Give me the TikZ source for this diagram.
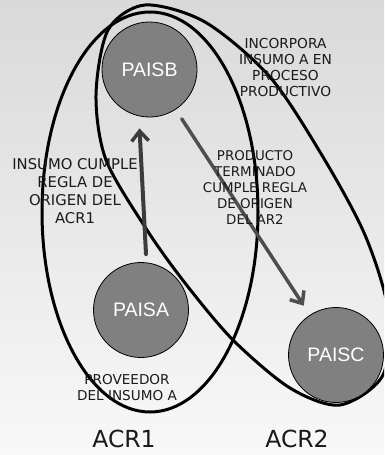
\documentclass[tikz,border=0pt]{standalone}
\usepackage{fontspec}
\setmainfont{DejaVu Sans}
\newfontfamily\circfont{Liberation Sans}
\usetikzlibrary{arrows.meta}
\definecolor{bgtop}{HTML}{D9D9D9}
\definecolor{bgbot}{HTML}{F8F8F8}
\definecolor{circfill}{HTML}{808080}
\definecolor{arrdark}{HTML}{3C3C3C}
\definecolor{arrmid}{HTML}{4E4E4E}
\definecolor{txt}{HTML}{1A1A1A}
\tikzset{
  loopline/.style={line width=3pt, black},
  country/.style={circle, draw=black, line width=0.8pt, fill=circfill, minimum size=95pt, inner sep=0pt,
    text=white, font=\circfont\fontsize{19.5}{22}\selectfont},
  lbl/.style={align=center, text=txt, inner sep=0pt},
  arrowline/.style={line width=4pt, line cap=round, -{Straight Barb[length=10pt,width=17pt,line width=3.5pt]}},
  acr/.style={text=txt, inner sep=0pt, font=\fontsize{23.5}{26}\selectfont}
}
\begin{document}
\begin{tikzpicture}[x=1pt,y=-1pt]
\useasboundingbox (0,0) rectangle (384,455);
\shade[top color=bgtop, bottom color=bgbot] (0,0) rectangle (384,455);
\begin{scope}
\clip (0,0) rectangle (384,455);
% ACR1 loop
\draw[loopline] (150,212) ellipse [x radius=108pt, y radius=200pt];
% ACR2 loop
\draw[loopline] plot[smooth cycle] coordinates {
 (145,5) (205,22) (270,77) (323,157) (365,235) (388,310) (383,375) (340,405)
 (290,388) (233,340) (185,283) (147,230) (106,160) (96,95) (108,30)};
\end{scope}
\node[country] (B) at (149.5,69.5) {PAISB};
\node[country] (A) at (141,310) {PAISA};
\node[country] (C) at (336,355) {PAISC};
\draw[arrowline, arrdark] ([shift={(5pt,8pt)}]A.north) -- ([shift={(-10pt,-11pt)}]B.south);
\draw[arrowline, arrmid, line width=3.5pt, shorten <=11pt, shorten >=11pt] (B) -- (C);
\node[lbl, font=\fontsize{14.8}{18}\selectfont] (l1) at (75,191) {INSUMO CUMPLE\\REGLA DE\\ORIGEN DEL\\ACR1};
\node[lbl, font=\fontsize{13.75}{16}\selectfont] (l2) at (285.5,67) {INCORPORA\\INSUMO A EN\\PROCESO\\PRODUCTIVO};
\node[lbl, font=\fontsize{13.4}{16}\selectfont] (l3) at (255,188) {PRODUCTO\\TERMINADO\\CUMPLE REGLA\\DE ORIGEN\\DEL AR2};
\node[lbl, font=\fontsize{13.6}{16}\selectfont] (l4) at (127,388) {PROVEEDOR\\DEL INSUMO A};
\node[acr] (acr1) at (124,439) {ACR1};
\node[acr] (acr2) at (297,439) {ACR2};
\end{tikzpicture}
\end{document}
